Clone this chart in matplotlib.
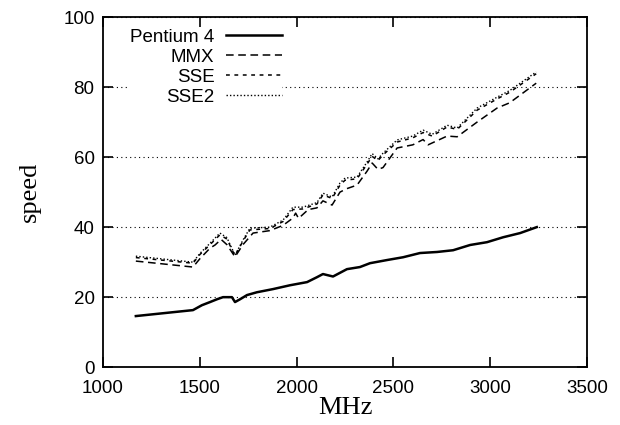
import numpy as np
import matplotlib.pyplot as plt

# clock speed (MHz) and speed readings
p4_mhz = [1170, 1465, 1511, 1553, 1589, 1620, 1666, 1682, 1708, 1744, 1795, 1878,
          1966, 2054, 2105, 2136, 2188, 2260, 2327, 2379, 2467, 2550, 2637, 2725,
          2808, 2896, 2983, 3066, 3154, 3240]
p4_speed = [14.6, 16.3, 17.7, 18.6, 19.4, 20.0, 20.0, 18.6, 19.4, 20.6, 21.4, 22.3,
            23.4, 24.3, 25.7, 26.6, 25.9, 28.0, 28.6, 29.7, 30.6, 31.4, 32.6, 32.9,
            33.4, 34.9, 35.7, 37.1, 38.3, 40.0]

mmx_mhz = [1170, 1465, 1501, 1553, 1579, 1610, 1640, 1682, 1723, 1775, 1862, 1930,
           1981, 1995, 2010, 2060, 2105, 2136, 2183, 2224, 2260, 2312, 2364, 2390,
           2420, 2446, 2519, 2600, 2653, 2679, 2777, 2829, 2932, 3035, 3100, 3237]
mmx_speed = [30.3, 28.6, 31.0, 34.0, 34.9, 36.5, 35.0, 31.5, 35.0, 38.3, 39.0, 40.5,
             42.6, 44.0, 42.5, 45.0, 45.5, 47.5, 46.3, 50.0, 51.0, 52.0, 56.0, 58.3,
             56.5, 57.0, 62.6, 63.5, 65.0, 63.5, 66.0, 65.8, 70.0, 74.0, 75.5, 81.1]

sse_mhz = [1170, 1465, 1501, 1553, 1604, 1640, 1682, 1723, 1759, 1862, 1930, 1981,
           2033, 2105, 2136, 2183, 2224, 2250, 2312, 2364, 2390, 2420, 2446, 2519,
           2600, 2653, 2700, 2777, 2829, 2932, 3035, 3100, 3237]
sse_speed = [31.3, 29.7, 32.2, 35.0, 37.8, 36.6, 31.8, 36.0, 39.2, 39.6, 41.6, 45.0,
             45.2, 46.6, 49.2, 48.2, 52.0, 53.4, 53.8, 58.0, 60.2, 59.0, 60.6, 64.3,
             65.5, 67.0, 66.0, 68.6, 67.9, 73.4, 76.6, 78.5, 83.8]

sse2_mhz = [1170, 1465, 1501, 1553, 1604, 1640, 1682, 1723, 1759, 1862, 1930, 1981,
            2033, 2105, 2136, 2183, 2224, 2250, 2312, 2364, 2390, 2420, 2446, 2519,
            2600, 2653, 2700, 2777, 2829, 2932, 3035, 3100, 3237]
sse2_speed = [31.7, 30.0, 32.5, 35.4, 38.3, 37.0, 32.0, 36.3, 39.7, 40.0, 42.0, 45.7,
              45.7, 47.0, 49.7, 48.6, 52.6, 54.0, 54.3, 58.6, 61.0, 59.5, 61.1, 64.9,
              66.0, 67.7, 66.5, 69.1, 68.3, 74.0, 77.1, 79.0, 84.3]

x_ticks = [1000, 1500, 2000, 2500, 3000, 3500]
y_ticks = [0, 20, 40, 60, 80, 100]

fig = plt.figure(figsize=(6.2, 4.25), dpi=100)
ax = fig.add_axes([0.166, 0.136, 0.781, 0.824])

ax.plot(p4_mhz, p4_speed, color='black', lw=1.8, ls='-', label='Pentium 4')
ax.plot(mmx_mhz, mmx_speed, color='black', lw=1.1, ls=(0, (5, 3)), label='MMX')
ax.plot(sse_mhz, sse_speed, color='black', lw=1.1, ls=(0, (2.5, 3)), label='SSE')
ax.plot(sse2_mhz, sse2_speed, color='black', lw=1.0, ls=(0, (1, 1.5)), label='SSE2')

ax.set_xlim(1000, 3500)
ax.set_ylim(0, 100)
ax.set_xticks(x_ticks)
ax.set_yticks(y_ticks)
ax.yaxis.grid(True, ls=(0, (1, 3)), color='black', lw=0.8)
ax.set_axisbelow(True)

ax.tick_params(direction='in', length=7, width=1.2, top=True, right=True,
               labelsize=13.5)
ax.tick_params(axis='x', pad=9)
ax.tick_params(axis='y', pad=6)
for lab in ax.get_xticklabels() + ax.get_yticklabels():
    lab.set_family('Liberation Sans')
for sp in ax.spines.values():
    sp.set_linewidth(1.3)

ax.set_xlabel('MHz', family='Liberation Serif', fontsize=19, labelpad=0)
ax.set_ylabel('speed', family='Liberation Serif', fontsize=19, labelpad=16)

# gnuplot-style key: labels right-aligned, sample lines to the right
leg = ax.legend(loc='upper left', bbox_to_anchor=(0.037, 0.993), markerfirst=False,
                frameon=True, fancybox=False, edgecolor='none', facecolor='white',
                framealpha=1, handlelength=3.0, handletextpad=0.6,
                labelspacing=0.15, borderpad=0.0,
                prop={'family': 'Liberation Sans', 'size': 13.5})

fig.savefig('out.png', dpi=100)
